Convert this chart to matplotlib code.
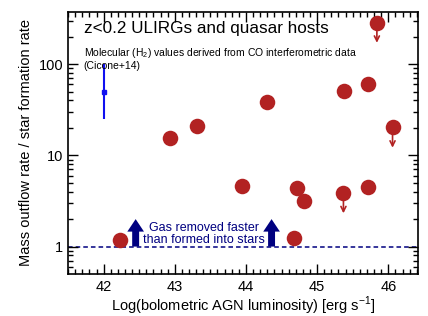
import numpy as np
import matplotlib
matplotlib.use("Agg")
import matplotlib.pyplot as plt
from matplotlib.ticker import MultipleLocator, LogLocator, NullFormatter, FixedLocator

plt.rcParams['font.family'] = ['Liberation Sans', 'DejaVu Sans']
plt.rcParams['mathtext.fontset'] = 'custom'
plt.rcParams['mathtext.rm'] = 'Liberation Sans'

# Detections
lagn = [42.23, 42.93, 43.31, 44.30, 45.38, 45.72, 43.94, 44.72, 44.81, 44.67, 45.72]
ratio = [1.18, 15.5, 20.7, 38.6, 50.5, 60.9, 4.65, 4.34, 3.12, 1.25, 4.45]

# Upper limits
lagn_ul = [45.84, 46.06, 45.37]
ratio_ul = [285, 20.2, 3.86]

# Typical uncertainty
err_x = 42.0
err_y = 50
err_lo = 25
err_hi = 100

red = '#B22222'
navy = '#000080'

fig = plt.figure(figsize=(4.28, 3.16), dpi=100)
ax = fig.add_axes([0.159, 0.134, 0.818, 0.829])

ax.axhline(1.0, color=navy, ls=(0, (3, 2)), lw=1.1, zorder=1)

ax.scatter(lagn, ratio, s=125, color=red, zorder=3, lw=0)
ax.scatter(lagn_ul, ratio_ul, s=125, color=red, zorder=3, lw=0)
for x, y in zip(lagn_ul, ratio_ul):
    ax.annotate('', xy=(x, y * 0.6), xytext=(x, y),
                arrowprops=dict(arrowstyle='->', color=red, lw=1.2,
                                mutation_scale=9, shrinkA=0, shrinkB=0),
                zorder=2)

ax.errorbar([err_x], [err_y], yerr=[[err_y - err_lo], [err_hi - err_y]],
            fmt='s', color='#1010F0', ms=2.5, lw=1.5, capsize=0)

for x in [42.45, 44.36]:
    ax.annotate('', xy=(x, 2.0), xytext=(x, 1.0),
                arrowprops=dict(arrowstyle='simple,head_width=1.2,head_length=0.9,tail_width=0.5',
                                color=navy, lw=0, shrinkA=0, shrinkB=0))
ax.text(43.41, 1.38, 'Gas removed faster\nthan formed into stars', color=navy,
        fontsize=9, ha='center', va='center', linespacing=0.95)

ax.text(0.045, 0.965, 'z<0.2 ULIRGs and quasar hosts', transform=ax.transAxes,
        fontsize=12.3, va='top', ha='left')
ax.text(0.045, 0.87, 'Molecular (H$_2$) values derived from CO interferometric data\n(Cicone+14)',
        transform=ax.transAxes, fontsize=7.5, va='top', ha='left', linespacing=1.1)

ax.set_yscale('log')
ax.set_xlim(41.5, 46.42)
ax.set_ylim(0.505, 375)
ax.xaxis.set_major_locator(MultipleLocator(1))
ax.xaxis.set_minor_locator(MultipleLocator(0.1))
ax.yaxis.set_major_locator(FixedLocator([1, 10, 100]))
ax.set_yticklabels(['1', '10', '100'])
ax.yaxis.set_minor_locator(LogLocator(subs=np.arange(2, 10)))
ax.yaxis.set_minor_formatter(NullFormatter())
ax.tick_params(which='both', direction='in', top=True, right=True, labelsize=10.5, width=1)
ax.tick_params(which='major', length=7)
ax.tick_params(which='minor', length=3.5)
ax.tick_params(axis='x', pad=4.5)
for s in ax.spines.values():
    s.set_linewidth(1.2)

ax.set_xlabel('Log(bolometric AGN luminosity) [erg s$^{-1}$]', fontsize=10.5, labelpad=0.5)
ax.set_ylabel('Mass outflow rate / star formation rate', fontsize=10.5, labelpad=4)

fig.savefig('out.png', dpi=100)
